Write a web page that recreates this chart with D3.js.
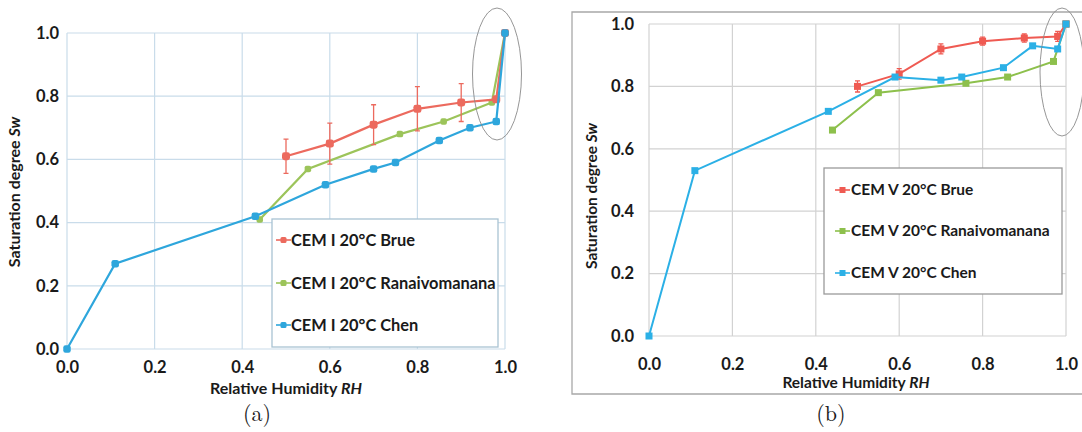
<!DOCTYPE html>
<html><head><meta charset="utf-8">
<script src="https://cdn.jsdelivr.net/npm/d3@7/dist/d3.min.js"></script>
<style>
html,body{margin:0;padding:0;background:#fff;}
svg text{font-family:Lato,"Open Sans",sans-serif;font-weight:bold;fill:#1a1a1a;}
</style></head><body>
<svg id="c" width="1082" height="432"></svg>
<script>
// ---- data ----
const rhTicks = [0, 0.2, 0.4, 0.6, 0.8, 1.0];
const swTicks = [0, 0.2, 0.4, 0.6, 0.8, 1.0];
const tickLabels = ["0.0", "0.2", "0.4", "0.6", "0.8", "1.0"];

// (a) CEM I
const aBrueRH = [0.50, 0.60, 0.70, 0.80, 0.90, 0.98, 1.00];
const aBrueSw = [0.61, 0.65, 0.71, 0.76, 0.78, 0.79, 1.00];
const aBrueErr = [0.054, 0.065, 0.063, 0.07, 0.06, 0, 0];
const aRanRH = [0.44, 0.55, 0.76, 0.86, 0.97, 1.00];
const aRanSw = [0.41, 0.57, 0.68, 0.72, 0.78, 1.00];
const aChenRH = [0, 0.11, 0.43, 0.59, 0.70, 0.75, 0.85, 0.92, 0.98, 1.00];
const aChenSw = [0, 0.27, 0.42, 0.52, 0.57, 0.59, 0.66, 0.70, 0.72, 1.00];
const aLegend = ["CEM I 20°C Brue", "CEM I 20°C Ranaivomanana", "CEM I 20°C Chen"];

// (b) CEM V
const bBrueRH = [0.50, 0.60, 0.70, 0.80, 0.90, 0.98, 1.00];
const bBrueSw = [0.80, 0.84, 0.92, 0.945, 0.955, 0.96, 1.00];
const bBrueErr = [0.018, 0.017, 0.016, 0.013, 0.013, 0.016, 0];
const bRanRH = [0.44, 0.55, 0.76, 0.86, 0.97, 1.00];
const bRanSw = [0.66, 0.78, 0.81, 0.83, 0.88, 1.00];
const bChenRH = [0, 0.11, 0.43, 0.59, 0.70, 0.75, 0.85, 0.92, 0.98, 1.00];
const bChenSw = [0, 0.53, 0.72, 0.83, 0.82, 0.83, 0.86, 0.93, 0.92, 1.00];
const bLegend = ["CEM V 20°C Brue", "CEM V 20°C Ranaivomanana", "CEM V 20°C Chen"];

const svg = d3.select("#c");

function zip(xs, ys, es) { return xs.map((x, i) => ({x, y: ys[i], e: es ? es[i] : 0})); }

function panel(cfg) {
  const g = svg.append("g");
  const x = d3.scaleLinear().domain([0, 1]).range([cfg.x0, cfg.x1]);
  const y = d3.scaleLinear().domain([0, 1]).range([cfg.y0, cfg.y1]);

  if (cfg.frame) {
    g.append("path").attr("d", `M1083,${cfg.frame.t}H${cfg.frame.l}V${cfg.frame.b}H1083`)
      .attr("fill", "none").attr("stroke", "#a8a8a8").attr("stroke-width", 1.3);
  }
  // grid
  g.append("g").selectAll("line").data(rhTicks).join("line")
    .attr("x1", d => x(d)).attr("x2", d => x(d)).attr("y1", y(0)).attr("y2", y(1))
    .attr("stroke", cfg.grid).attr("stroke-width", 1.2);
  g.append("g").selectAll("line").data(swTicks).join("line")
    .attr("y1", d => y(d)).attr("y2", d => y(d)).attr("x1", x(0)).attr("x2", x(1))
    .attr("stroke", cfg.grid).attr("stroke-width", 1.2);

  // axes (labels only)
  const xa = g.append("g").attr("transform", `translate(0,${cfg.xTickY})`)
    .call(d3.axisBottom(x).tickValues(rhTicks).tickFormat((d, i) => tickLabels[i]).tickSize(0));
  xa.select(".domain").remove();
  xa.selectAll("text").attr("font-size", 16.5).attr("font-family", null).attr("dy", "0.32em");
  const ya = g.append("g").attr("transform", `translate(${cfg.yTickX},0)`)
    .call(d3.axisLeft(y).tickValues(swTicks).tickFormat((d, i) => tickLabels[i]).tickSize(0).tickPadding(0));
  ya.select(".domain").remove();
  ya.selectAll("text").attr("font-size", 16.5).attr("font-family", null);

  g.append("text").attr("x", cfg.xTitle[0]).attr("y", cfg.xTitle[1]).attr("text-anchor", "middle")
    .attr("font-size", cfg.tfs).html('Relative Humidity <tspan font-style="italic">RH</tspan>');
  g.append("text").attr("transform", `translate(${cfg.yTitle[0]},${cfg.yTitle[1]}) rotate(-90)`)
    .attr("text-anchor", "middle").attr("font-size", cfg.tfs)
    .html('Saturation degree <tspan font-style="italic">Sw</tspan>');

  const line = d3.line().x(d => x(d.x)).y(d => y(d.y));
  const series = [
    {d: zip(cfg.ran[0], cfg.ran[1]), c: cfg.colors[1], s: cfg.ms[1]},
    {d: zip(cfg.brue[0], cfg.brue[1], cfg.brue[2]), c: cfg.colors[0], s: cfg.ms[0], err: true},
    {d: zip(cfg.chen[0], cfg.chen[1]), c: cfg.colors[2], s: cfg.ms[2]}
  ];
  // order: green, red, blue (blue on top)
  series.forEach(se => {
    g.append("path").datum(se.d).attr("d", line).attr("fill", "none")
      .attr("stroke", se.c).attr("stroke-width", cfg.lw);
    if (se.err) {
      g.append("g").selectAll("path").data(se.d.filter(p => p.e > 0)).join("path")
        .attr("d", p => `M${x(p.x)},${y(p.y - p.e)}V${y(p.y + p.e)}M${x(p.x) - 2.5},${y(p.y - p.e)}h5M${x(p.x) - 2.5},${y(p.y + p.e)}h5`)
        .attr("stroke", se.c).attr("stroke-width", 1.3).attr("fill", "none");
    }
    g.append("g").selectAll("rect").data(se.d).join("rect")
      .attr("x", p => x(p.x) - se.s / 2).attr("y", p => y(p.y) - se.s / 2)
      .attr("width", se.s).attr("height", se.s).attr("rx", cfg.round ? se.s * 0.3 : 0)
      .attr("fill", se.c);
  });

  // ellipse
  g.append("ellipse").attr("cx", cfg.ell[0]).attr("cy", cfg.ell[1]).attr("rx", cfg.ell[2]).attr("ry", cfg.ell[3])
    .attr("fill", "none").attr("stroke", "#8a8a8a").attr("stroke-width", 0.9);

  // legend
  const L = cfg.legend;
  g.append("rect").attr("x", L.x).attr("y", L.y).attr("width", L.w).attr("height", L.h)
    .attr("fill", "#fff").attr("stroke", L.stroke).attr("stroke-width", 1.3);
  cfg.labels.forEach((t, i) => {
    const yy = L.rows[i];
    g.append("line").attr("x1", L.mx).attr("x2", L.mx + 15).attr("y1", yy).attr("y2", yy)
      .attr("stroke", cfg.colors[i]).attr("stroke-width", 1.6);
    g.append("rect").attr("x", L.mx + 7.5 - 3).attr("y", yy - 3).attr("width", 6).attr("height", 6)
      .attr("rx", cfg.round ? 1.5 : 0).attr("fill", cfg.colors[i]);
    g.append("text").attr("x", L.tx).attr("y", yy).attr("dy", "0.35em")
      .attr("font-size", L.fs).text(t);
  });

  // caption
  svg.append("text").attr("x", cfg.cap[0]).attr("y", cfg.cap[1]).attr("text-anchor", "middle")
    .style("font-family", "'Latin Modern Roman','DejaVu Serif',serif").style("font-weight", "normal")
    .attr("font-size", 22).text(cfg.capText);
}

panel({
  x0: 67, x1: 505, y0: 349, y1: 33, grid: "#c9dcea", lw: 2.2, round: true, tfs: 16,
  xTickY: 365, yTickX: 59, xTitle: [286, 394], yTitle: [20, 192],
  brue: [aBrueRH, aBrueSw, aBrueErr], ran: [aRanRH, aRanSw], chen: [aChenRH, aChenSw],
  colors: ["#ec6a5e", "#9cc45a", "#2ea6dc"], ms: [8, 6.5, 7.5],
  ell: [497, 74, 24.5, 66],
  legend: {x: 272, y: 219, w: 226, h: 128, stroke: "#a9c3d3", rows: [240, 283, 325], mx: 276, tx: 291, fs: 16.4},
  labels: aLegend, cap: [257, 421], capText: "(a)"
});
panel({
  x0: 649, x1: 1066, y0: 336, y1: 24, grid: "#d2d2d2", lw: 2, round: false, tfs: 15.5,
  frame: {t: 12, l: 572, b: 394},
  xTickY: 362, yTickX: 634, xTitle: [856, 388], yTitle: [597, 196],
  brue: [bBrueRH, bBrueSw, bBrueErr], ran: [bRanRH, bRanSw], chen: [bChenRH, bChenSw],
  colors: ["#ef5a52", "#8dc04c", "#2bb0e6"], ms: [7, 7, 7],
  ell: [1062, 72, 22, 64],
  legend: {x: 824, y: 168, w: 238, h: 126, stroke: "#9a9a9a", rows: [190, 231, 273], mx: 835, tx: 851, fs: 15.5},
  labels: bLegend, cap: [831, 421], capText: "(b)"
});
</script>
</body></html>
